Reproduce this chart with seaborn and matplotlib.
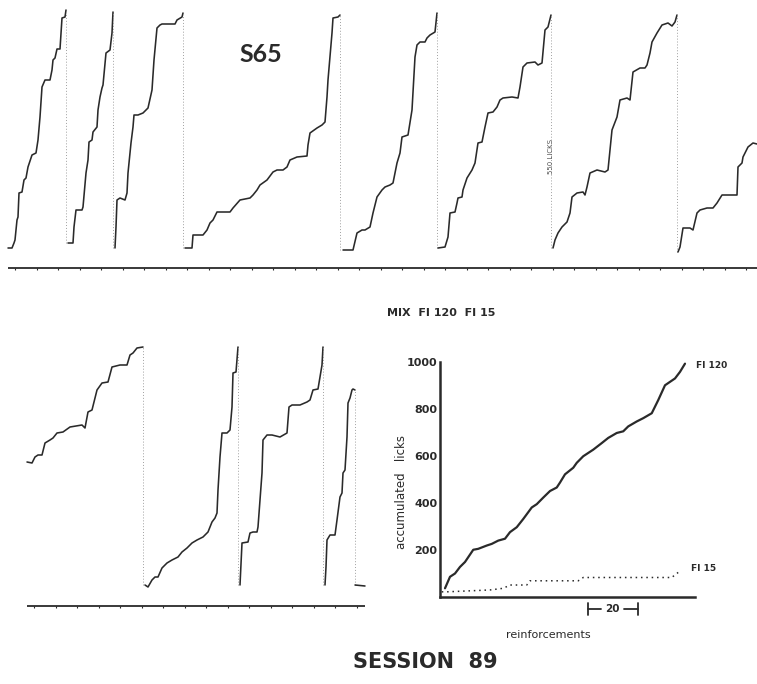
import seaborn as sns
import matplotlib.pyplot as plt

sns.set_theme(style="white")
plt.rcParams["font.family"] = ["DejaVu Sans"]

INK = "#2a2a2a"

# cumulative records, session 89 (time, pen height)
top_rec1 = [(8, 2), (12, 2), (14, 7), (15, 10), (17, 30), (18, 33), (19, 57), (22, 58), (24, 70),
            (26, 72), (28, 83), (32, 95), (36, 97), (38, 110), (40, 133), (42, 163), (45, 170),
            (50, 170), (52, 180), (53, 190), (55, 192), (57, 201), (60, 201), (62, 232), (65, 233),
            (66, 240)]
top_rec2 = [(68, 7), (73, 7), (74, 23), (76, 40), (82, 40), (83, 43), (86, 77), (88, 90), (89, 108),
            (92, 110), (93, 118), (97, 123), (98, 140), (100, 153), (102, 162), (103, 165), (106, 197),
            (110, 200), (112, 217), (113, 238)]
top_rec3 = [(115, 2), (116, 23), (117, 50), (120, 52), (125, 50), (127, 57), (128, 77), (131, 107),
            (133, 123), (134, 135), (138, 135), (143, 137), (148, 142), (152, 160), (154, 190),
            (157, 222), (160, 225), (162, 226), (175, 226), (177, 230), (182, 233), (183, 237)]
top_rec4 = [(185, 2), (192, 2), (193, 15), (203, 15), (207, 20), (210, 27), (213, 30), (217, 38),
            (230, 38), (233, 42), (240, 50), (250, 52), (253, 55), (257, 60), (260, 65), (267, 70),
            (273, 78), (277, 80), (283, 80), (287, 83), (290, 90), (297, 93), (307, 94), (308, 105),
            (310, 117), (317, 122), (322, 125), (325, 128), (327, 153), (328, 170), (332, 217),
            (333, 232), (338, 233), (340, 235)]
top_rec5 = [(343, 0), (353, 0), (357, 17), (362, 20), (365, 20), (370, 23), (373, 37), (377, 53),
            (382, 60), (385, 63), (390, 65), (393, 67), (397, 87), (400, 97), (402, 113), (408, 115),
            (412, 140), (415, 193), (417, 205), (420, 208), (425, 208), (427, 212), (430, 215),
            (435, 218), (437, 237)]
top_rec6 = [(438, 2), (445, 3), (448, 13), (450, 37), (455, 38), (457, 47), (458, 52), (462, 53),
            (463, 60), (467, 72), (472, 80), (475, 87), (478, 107), (482, 108), (485, 123), (488, 137),
            (493, 138), (497, 143), (500, 150), (503, 152), (512, 153), (518, 152), (520, 163),
            (523, 183), (527, 187), (535, 188), (538, 185), (542, 187), (545, 220), (548, 223),
            (551, 235)]
top_rec7 = [(553, 2), (555, 10), (558, 17), (562, 23), (567, 28), (570, 37), (572, 53), (577, 57),
            (583, 58), (585, 55), (587, 63), (590, 77), (597, 80), (605, 78), (608, 80), (610, 100),
            (612, 120), (617, 133), (620, 150), (627, 152), (630, 150), (633, 178), (640, 182),
            (645, 182), (647, 185), (650, 197), (652, 208), (657, 217), (662, 225), (668, 227),
            (672, 224), (675, 228), (677, 235)]
top_rec8 = [(678, -2), (680, 3), (683, 22), (690, 22), (693, 20), (697, 37), (700, 40), (707, 42),
            (713, 42), (717, 47), (722, 55), (733, 55), (737, 55), (738, 83), (742, 87), (743, 93),
            (748, 103), (753, 107), (757, 106)]

bot_rec1 = [(27, 128), (32, 127), (35, 133), (38, 135), (42, 135), (45, 147), (50, 150), (53, 152),
            (57, 157), (63, 158), (70, 163), (82, 165), (85, 162), (88, 178), (92, 180), (97, 200),
            (102, 207), (108, 208), (112, 223), (120, 225), (127, 225), (130, 235), (133, 237),
            (137, 242), (143, 243)]
bot_rec2 = [(145, 5), (148, 3), (152, 10), (155, 13), (158, 13), (162, 22), (167, 27), (172, 30),
            (178, 33), (182, 38), (187, 42), (192, 47), (197, 50), (203, 53), (208, 58), (212, 68),
            (215, 72), (217, 77), (218, 100), (220, 133), (222, 157), (227, 157), (230, 160),
            (232, 183), (233, 217), (236, 218), (238, 243)]
bot_rec3 = [(240, 5), (242, 47), (248, 48), (250, 57), (253, 58), (257, 58), (258, 63), (260, 90),
            (262, 117), (263, 150), (267, 155), (272, 155), (280, 153), (287, 157), (289, 183),
            (292, 185), (300, 185), (307, 188), (310, 190), (313, 200), (318, 201), (322, 225),
            (323, 243)]
bot_rec4 = [(325, 5), (326, 23), (327, 50), (330, 55), (335, 55), (337, 70), (340, 93), (342, 97),
            (343, 117), (345, 120), (347, 153), (348, 187), (350, 192), (352, 200), (353, 201),
            (355, 200)]
bot_rest = [(355, 5), (365, 4)]

top_records = [top_rec1, top_rec2, top_rec3, top_rec4, top_rec5, top_rec6, top_rec7, top_rec8]
bot_records = [bot_rec1, bot_rec2, bot_rec3, bot_rec4, bot_rest]

# accumulated licks per reinforcement
fi120_x = [2, 4, 6, 8, 10, 13.3, 15.3, 18.7, 20.7, 23.3, 26, 28, 30.7, 33.3, 36.7, 38.7, 41.3, 44,
           46.7, 48, 50, 53.3, 54.7, 57.3, 61.3, 64.7, 67.3, 70.7, 73.3, 75.3, 78.7, 81.3, 84.7,
           87.3, 90, 94, 96, 98]
fi120_y = [37, 86, 100, 128, 149, 201, 205, 219, 226, 240, 248, 276, 297, 332, 381, 395, 423, 451,
           466, 487, 522, 550, 571, 599, 627, 655, 677, 698, 705, 726, 747, 761, 782, 838, 901, 930,
           958, 993]
fi15_x = [0.7, 2.7, 20, 25.3, 28, 34.7, 36, 55.3, 57.3, 92.7, 94.7, 96]
fi15_y = [22, 22, 30, 37, 51, 51, 69, 69, 83, 83, 100, 110]

fig = plt.figure(figsize=(7.57, 6.84), dpi=100)


def draw_records(ax, records, line_y, line_x0, line_x1, tick_step):
    prev = None
    for rec in records:
        t = [p[0] for p in rec]
        h = [p[1] for p in rec]
        if prev is not None:
            ax.vlines(prev[0], rec[0][1], prev[1], color="#a0a0a0", lw=0.7, ls=(0, (1, 2)))
        ax.plot(t, h, color=INK, lw=1.15, solid_joinstyle="round")
        prev = rec[-1]
    ax.hlines(line_y, line_x0, line_x1, color=INK, lw=1.3)
    tx = line_x0 + 7
    while tx < line_x1:
        ax.vlines(tx, line_y - 2, line_y, color=INK, lw=0.8)
        tx += tick_step
    ax.set_axis_off()


# top strip
ax_top = fig.add_axes([0, 1 - 280 / 684, 1, 280 / 684])
ax_top.set_xlim(0, 757)
ax_top.set_ylim(-30, 250)
draw_records(ax_top, top_records, -18, 8, 757, 21.5)
ax_top.text(261, 195, "S65", fontsize=18, fontweight="bold", color=INK, ha="center", va="center",
            family=["Lato", "DejaVu Sans"])
ax_top.text(551, 94, "550 LICKS", fontsize=5, rotation=90, color="#555555", ha="center", va="center")

# bottom strip
ax_bot = fig.add_axes([0, 64 / 684, 400 / 757, 290 / 684])
ax_bot.set_xlim(0, 400)
ax_bot.set_ylim(-30, 260)
draw_records(ax_bot, bot_records, -16, 27, 365, 21.5)

# summary panel
ax = fig.add_axes([440 / 757, 87 / 684, 255 / 757, 235 / 684])
sns.lineplot(x=fi120_x, y=fi120_y, ax=ax, color=INK, lw=1.6)
sns.lineplot(x=fi15_x, y=fi15_y, ax=ax, color=INK, lw=1.1, linestyle=(0, (1, 2.5)))
ax.set_xlim(0, 102)
ax.set_ylim(0, 1000)
ax.set_yticks([200, 400, 600, 800, 1000])
ax.set_xticks([])
ax.tick_params(axis="y", direction="in", length=4, width=1.2, labelsize=8, pad=2, colors=INK)
for lab in ax.get_yticklabels():
    lab.set_fontweight("bold")
for side in ["top", "right"]:
    ax.spines[side].set_visible(False)
for side in ["left", "bottom"]:
    ax.spines[side].set_linewidth(1.8)
    ax.spines[side].set_color(INK)
ax.set_ylabel("accumulated   licks", fontsize=8.5, color=INK)
ax.yaxis.set_label_coords(-0.125, 0.445)
ax.set_xlabel("reinforcements", fontsize=8, color=INK)
ax.xaxis.set_label_coords(0.425, -0.14)
ax.annotate("FI 120", xy=(fi120_x[-1], fi120_y[-1]), xytext=(8, -1), textcoords="offset points",
            fontsize=6.5, fontweight="bold", color=INK, va="center")
ax.annotate("FI 15", xy=(fi15_x[-1], fi15_y[-1]), xytext=(8, 2), textcoords="offset points",
            fontsize=6.5, fontweight="bold", color=INK, va="center")

# 20-reinforcement scale bar under the x axis
bar_start, bar_len, bar_y = 59, 20, -52
ax.plot([bar_start, bar_start + 5.5], [bar_y, bar_y], color=INK, lw=1.3, clip_on=False)
ax.plot([bar_start + bar_len - 5.5, bar_start + bar_len], [bar_y, bar_y], color=INK, lw=1.3, clip_on=False)
ax.plot([bar_start, bar_start], [bar_y - 25, bar_y + 25], color=INK, lw=1.3, clip_on=False)
ax.plot([bar_start + bar_len] * 2, [bar_y - 25, bar_y + 25], color=INK, lw=1.3, clip_on=False)
ax.text(bar_start + bar_len / 2, bar_y, "20", fontsize=7.5, fontweight="bold", color=INK,
        ha="center", va="center")

fig.text(441 / 757, 1 - 313 / 684, "MIX  FI 120  FI 15", fontsize=8, fontweight="bold", color=INK,
         ha="center", va="center")
fig.text(425 / 757, 1 - 662 / 684, "SESSION  89", fontsize=15, fontweight="bold", color=INK,
         ha="center", va="center")

fig.savefig("out.png", dpi=100)
